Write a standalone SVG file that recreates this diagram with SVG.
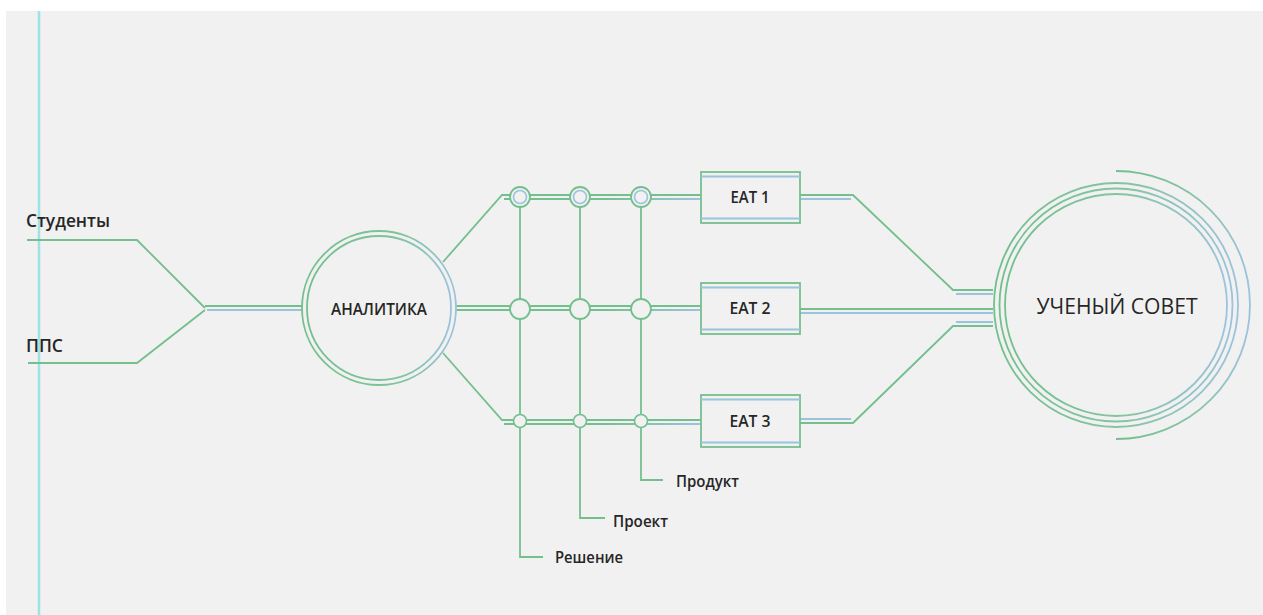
<svg xmlns="http://www.w3.org/2000/svg" width="1263" height="615" viewBox="0 0 1263 615">
<defs>
<style>
.g{stroke:#74bf8e;stroke-width:1.8;fill:none}
.b{stroke:#9cc3dc;stroke-width:1.8;fill:none}
.gb{stroke:url(#gbH);stroke-width:1.8;fill:none}
.node{fill:#f1f1f1}
.t{font-family:"Open Sans","Liberation Sans",sans-serif;font-weight:600;fill:#262626}
</style>
<linearGradient id="gbH" gradientUnits="userSpaceOnUse" x1="600" y1="0" x2="700" y2="0">
<stop offset="0" stop-color="#74bf8e"/><stop offset="1" stop-color="#9cc3dc"/>
</linearGradient>
<linearGradient id="ringA" x1="0" y1="0" x2="1" y2="0">
<stop offset="0" stop-color="#74bf8e"/><stop offset="0.6" stop-color="#80c39a"/><stop offset="1" stop-color="#9cc3dc"/>
</linearGradient>
<linearGradient id="ringU" x1="0" y1="0" x2="1" y2="0">
<stop offset="0" stop-color="#74bf8e"/><stop offset="0.55" stop-color="#86c4a4"/><stop offset="1" stop-color="#9cc3dc"/>
</linearGradient>
</defs>
<rect x="0" y="0" width="1263" height="615" fill="#ffffff"/>
<rect x="6" y="11" width="1257" height="604" fill="#f1f1f1"/>
<line x1="39" y1="11" x2="39" y2="615" stroke="#9fe4e4" stroke-width="2.5"/>

<g id="connectors">
  <path class="g" d="M27,240 L137,240 L205,308"/>
  <path class="g" d="M28,363 L137,363 L205,310"/>
  <path class="g" d="M205,306 L303,306"/>
  <path class="b" d="M207,310 L303,310"/>
  <path class="g" d="M443,262 L502,195 L701,195"/>
  <path class="gb" d="M504,199 L701,199"/>
  <path class="g" d="M456,306 L701,306"/>
  <path class="gb" d="M456,310 L701,310"/>
  <path class="g" d="M443,353 L502,420 L701,420"/>
  <path class="gb" d="M504,424 L701,424"/>
  <path class="g" d="M520,197 L520,557 L543,557"/>
  <path class="g" d="M580,197 L580,518 L605,518"/>
  <path class="g" d="M641,197 L641,480 L663,480"/>
  <path class="g" d="M800,195 L853,195 L953,290 L993,290"/>
  <path class="b" d="M800,199 L851,199"/>
  <path class="b" d="M956,294 L993,294"/>
  <path class="g" d="M800,309 L993,309"/>
  <path class="b" d="M800,313 L993,313"/>
  <path class="g" d="M800,423 L853,423 L953,326 L993,326"/>
  <path class="b" d="M800,419 L851,419"/>
  <path class="b" d="M956,322 L993,322"/>
</g>

<g id="students"><text class="t" x="26" y="227" font-size="18" textLength="84" lengthAdjust="spacingAndGlyphs">Студенты</text></g>
<g id="pps"><text class="t" x="26" y="352" font-size="18" textLength="37" lengthAdjust="spacingAndGlyphs">ППС</text></g>

<g id="analytics">
  <circle class="node" cx="379" cy="308" r="77" stroke="url(#ringA)" stroke-width="1.8"/>
  <circle cx="379" cy="308" r="72" fill="none" stroke="url(#ringA)" stroke-width="1.8"/>
  <text class="t" x="379" y="315" font-size="17" text-anchor="middle" textLength="96" lengthAdjust="spacingAndGlyphs">АНАЛИТИКА</text>
</g>

<g id="junctions">
  <g class="node"><circle cx="520" cy="197" r="10" stroke="#74bf8e" stroke-width="1.8"/><circle cx="520" cy="197" r="6.5" stroke="#9cc3dc" stroke-width="1.6"/></g>
  <g class="node"><circle cx="580" cy="197" r="10" stroke="#74bf8e" stroke-width="1.8"/><circle cx="580" cy="197" r="6.5" stroke="#9cc3dc" stroke-width="1.6"/></g>
  <g class="node"><circle cx="641" cy="197" r="10" stroke="#74bf8e" stroke-width="1.8"/><circle cx="641" cy="197" r="6.5" stroke="#9cc3dc" stroke-width="1.6"/></g>
  <circle class="node" cx="520" cy="309" r="10" stroke="#74bf8e" stroke-width="1.8"/>
  <circle class="node" cx="580" cy="309" r="10" stroke="#74bf8e" stroke-width="1.8"/>
  <circle class="node" cx="641" cy="309" r="10" stroke="#74bf8e" stroke-width="1.8"/>
  <circle class="node" cx="520" cy="421" r="6.5" stroke="#74bf8e" stroke-width="1.6"/>
  <circle class="node" cx="580" cy="421" r="6.5" stroke="#74bf8e" stroke-width="1.6"/>
  <circle class="node" cx="641" cy="421" r="6.5" stroke="#74bf8e" stroke-width="1.6"/>
</g>

<g id="reshenie"><text class="t" x="555" y="563" font-size="16" textLength="68" lengthAdjust="spacingAndGlyphs">Решение</text></g>
<g id="proekt"><text class="t" x="613" y="527" font-size="16" textLength="55" lengthAdjust="spacingAndGlyphs">Проект</text></g>
<g id="produkt"><text class="t" x="676" y="487" font-size="16" textLength="63" lengthAdjust="spacingAndGlyphs">Продукт</text></g>

<g id="eat1">
  <rect class="node" x="701" y="172" width="99" height="51" stroke="#74bf8e" stroke-width="1.8"/>
  <line class="b" x1="701" y1="176.5" x2="800" y2="176.5"/>
  <line class="b" x1="701" y1="218.5" x2="800" y2="218.5"/>
  <text class="t" x="750" y="203" font-size="16" text-anchor="middle" textLength="39" lengthAdjust="spacingAndGlyphs">EAT 1</text>
</g>
<g id="eat2">
  <rect class="node" x="701" y="283" width="99" height="51" stroke="#74bf8e" stroke-width="1.8"/>
  <line class="b" x1="701" y1="287.5" x2="800" y2="287.5"/>
  <line class="b" x1="701" y1="329.5" x2="800" y2="329.5"/>
  <text class="t" x="750" y="314" font-size="16" text-anchor="middle" textLength="41" lengthAdjust="spacingAndGlyphs">EAT 2</text>
</g>
<g id="eat3">
  <rect class="node" x="701" y="395" width="99" height="52" stroke="#74bf8e" stroke-width="1.8"/>
  <line class="b" x1="701" y1="399.5" x2="800" y2="399.5"/>
  <line class="b" x1="701" y1="442.5" x2="800" y2="442.5"/>
  <text class="t" x="750" y="427" font-size="16" text-anchor="middle" textLength="41" lengthAdjust="spacingAndGlyphs">EAT 3</text>
</g>

<g id="council">
  <circle class="node" cx="1116" cy="305" r="122" stroke="url(#ringU)" stroke-width="1.8"/>
  <circle cx="1116" cy="305" r="116.5" fill="none" stroke="url(#ringU)" stroke-width="1.8"/>
  <circle cx="1116" cy="305" r="111" fill="none" stroke="url(#ringU)" stroke-width="1.8"/>
  <path d="M1116,171 A134,134 0 0 1 1116,439" fill="none" stroke="url(#ringU)" stroke-width="1.8"/>
  <text x="1117" y="314" font-family="'Open Sans','Liberation Sans',sans-serif" font-weight="500" font-size="22" fill="#262626" text-anchor="middle" textLength="161" lengthAdjust="spacingAndGlyphs">УЧЕНЫЙ СОВЕТ</text>
</g>
</svg>
